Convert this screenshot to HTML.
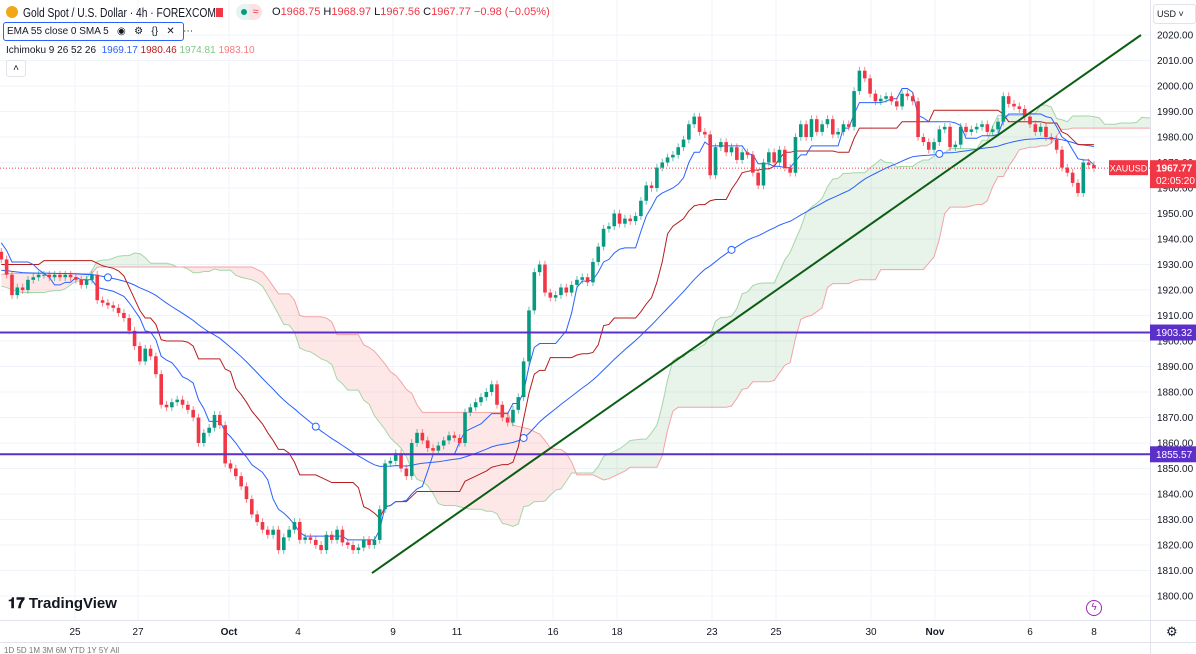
<!DOCTYPE html>
<html><head><meta charset="utf-8"><style>
body{margin:0;width:1196px;height:654px;overflow:hidden;background:#fff;font-family:"Liberation Sans",sans-serif;color:#131722}
#chart{position:absolute;left:0;top:0}
.hdr{position:absolute;font-size:11px;white-space:nowrap}
</style></head><body>
<svg id="chart" width="1196" height="654"></svg>
<div class="hdr" style="left:6px;top:6px;width:12px;height:12px;border-radius:50%;background:#f0a818"></div>
<div class="hdr" style="left:23px;top:5px;font-size:13px;transform:scaleX(0.79);transform-origin:left top">Gold Spot / U.S. Dollar · 4h · FOREXCOM</div>
<div class="hdr" style="left:216px;top:8px;width:7px;height:9px;background:#f23645"></div>
<div class="hdr" style="left:236px;top:4px;width:26px;height:16px;border-radius:8px;background:#e6f4f1"><span style="position:absolute;left:5px;top:5px;width:6px;height:6px;border-radius:50%;background:#089981"></span><span style="position:absolute;left:13px;top:0;width:13px;height:16px;border-radius:0 8px 8px 0;background:#fde2e4;color:#f23645;text-align:center;line-height:16px">≈</span></div>
<div class="hdr" style="left:272px;top:6px;color:#f23645"><span style="color:#131722">O</span>1968.75 <span style="color:#131722">H</span>1968.97 <span style="color:#131722">L</span>1967.56 <span style="color:#131722">C</span>1967.77 −0.98 (−0.05%)</div>
<div class="hdr" style="left:3px;top:22px;width:176px;height:17px;border:1px solid #2962ff;border-radius:3px;font-size:10px;line-height:17px;padding-left:3px">EMA 55 close 0 SMA 5 &nbsp;&nbsp;◉ &nbsp;&nbsp;⚙ &nbsp;&nbsp;{} &nbsp;&nbsp;✕ &nbsp;&nbsp;⋯</div>
<div class="hdr" style="left:6px;top:45px;font-size:10px">Ichimoku 9 26 52 26 &nbsp;<span style="color:#2962ff">1969.17</span> <span style="color:#b71c1c">1980.46</span> <span style="color:#81c784">1974.81</span> <span style="color:#f77c80">1983.10</span></div>
<div class="hdr" style="left:6px;top:60px;width:18px;height:15px;border:1px solid #e0e3eb;border-radius:3px;font-size:10px;text-align:center;line-height:15px">˄</div>
<div class="hdr" style="left:1153px;top:4px;width:38px;height:18px;border:1px solid #e0e3eb;border-radius:3px;font-size:9px;line-height:18px;padding-left:3px">USD ˅</div>
<div class="hdr" style="left:8px;top:595px;font-size:15px;font-weight:bold">𝟏𝟕 TradingView</div>
<div class="hdr" style="left:1086px;top:600px;width:14px;height:14px;border:1.5px solid #9c27b0;border-radius:50%;color:#9c27b0;font-size:10px;text-align:center;line-height:14px">ϟ</div>
<div class="hdr" style="left:1166px;top:624px;font-size:13px">⚙</div>
<script>
const history = [1912,1914,1916,1915,1918,1920,1917,1915,1914,1916,1919,1922,1921,1924,1926,1925,1923,1927,1930,1932,1931,1934,1937,1940,1938,1939,1936,1934,1930,1928,1925,1923,1920,1918,1921,1924,1922,1919,1917,1920,1923,1926,1924,1921,1918,1916,1919,1922,1924,1920,1916,1913,1915,1918,1921,1924,1922,1920,1917,1915,1918,1922,1925,1924,1927,1930,1933,1931,1935,1940,1945,1943,1938,1940,1944,1942,1938,1935];
const closes = [1932,1926,1918,1921,1920,1924,1925,1926,1926,1925,
1926,1925,1926,1925,1924,1922,1924,1926,1916,1915,
1914,1913,1911,1909,1904,1898,1892,1897,1894,1887,
1875,1874,1876,1877,1875,1873,1870,1860,1864,1866,
1871,1867,1852,1850,1847,1843,1838,1832,1829,1826,
1824,1826,1818,1823,1826,1829,1822,1823,1822,1820,
1818,1824,1822,1826,1821,1820,1818,1819,1822,1820,
1822,1834,1852,1853,1856,1850,1847,1860,1864,1861,
1858,1857,1859,1861,1863,1862,1860,1872,1874,1876,
1878,1880,1883,1875,1870,1868,1873,1878,1892,1912,
1927,1930,1919,1917,1918,1921,1919,1922,1924,1925,
1923,1931,1937,1944,1945,1950,1946,1948,1947,1949,
1955,1961,1960,1968,1970,1972,1973,1976,1979,1985,
1988,1982,1981,1965,1976,1978,1974,1976,1971,1974,
1973,1966,1961,1970,1974,1970,1975,1968,1966,1980,
1985,1980,1987,1982,1985,1987,1981,1982,1985,1984,
1998,2006,2003,1997,1994,1995,1996,1994,1992,1997,
1996,1994,1980,1978,1975,1978,1983,1984,1976,1977,
1984,1982,1983,1984,1985,1982,1983,1986,1996,1993,
1992,1991,1988,1985,1982,1984,1980,1979,1975,1968,
1966,1962,1958,1970,1969,1967.77];
const priceTicks = [1800,1810,1820,1830,1840,1850,1860,1870,1880,1890,1900,1910,1920,1930,1940,1950,1960,1970,1980,1990,2000,2010,2020];
const dateLabels = ["25","27","Oct","4","9","11","16","18","23","25","30","Nov","6","8"];
const datePx = [75,138,229,298,393,457,553,617,712,776,871,935,1030,1094];
const hLevels = [1903.32,1855.57];
const trendPrices = [1809,2020];
const lastPrice = 1967.77;

const S='http://www.w3.org/2000/svg', svg=document.getElementById('chart');
const PW=1150, BW=5.33, X0=1.3;
const y=p=>35+(2020-p)*2.55;
const x=i=>X0+i*BW;
function el(t,a,p){const e=document.createElementNS(S,t);for(const k in a)e.setAttribute(k,a[k]);(p||svg).appendChild(e);return e;}
const all=history.concat(closes), H=history.length;
const O=[],Hi=[],Lo=[];
for(let k=0;k<all.length;k++){const o=k?all[k-1]:all[k];O.push(o);Hi.push(Math.max(o,all[k])+1.5);Lo.push(Math.min(o,all[k])-1.5);}
function mid(k,n){let h=-1e9,l=1e9;for(let j=Math.max(0,k-n+1);j<=k;j++){h=Math.max(h,Hi[j]);l=Math.min(l,Lo[j]);}return (h+l)/2;}
const clip=el('clipPath',{id:'pc'});el('rect',{x:0,y:0,width:PW,height:620},clip);
const g=el('g',{'clip-path':'url(#pc)'});
for(const p of priceTicks){const l=el('line',{x1:0,x2:PW,y1:y(p),y2:y(p),stroke:'#f0f3fa'},g);}
datePx.forEach(px=>{const l=el('line',{x1:px,x2:px,y1:0,y2:620,stroke:'#f0f3fa'},g);});
const N=closes.length;
const A=[],B=[];
for(let i=-30;i<N+26;i++){const k=H+i-26;if(k<52)continue;A.push([x(i),(mid(k,9)+mid(k,26))/2]);B.push([x(i),mid(k,52)]);}
for(let j=0;j<A.length-1;j++){const up=(A[j][1]+A[j+1][1])>=(B[j][1]+B[j+1][1]);
 const p=el('polygon',{points:`${A[j][0]},${y(A[j][1])} ${A[j+1][0]},${y(A[j+1][1])} ${B[j+1][0]},${y(B[j+1][1])} ${B[j][0]},${y(B[j][1])}`,fill:up?'rgba(67,160,71,0.12)':'rgba(244,67,54,0.12)',stroke:'none'},g);
 }
const sa=el('polyline',{points:A.map(a=>a[0]+','+y(a[1])).join(' '),fill:'none',stroke:'#a5d6a7','stroke-width':1},g);

const sb=el('polyline',{points:B.map(a=>a[0]+','+y(a[1])).join(' '),fill:'none',stroke:'#f4a3a5','stroke-width':1},g);

let e=all[0];const E=[];for(let k=0;k<all.length;k++){e=k?e+(all[k]-e)*2/56:all[k];E.push(e);}
const ema=el('polyline',{points:closes.map((c,i)=>x(i)+','+y(E[H+i])).join(' '),fill:'none',stroke:'#2962ff','stroke-width':1},g);

for(let i=20;i<N;i+=39){const c=el('circle',{cx:x(i),cy:y(E[H+i]),r:3.5,fill:'#fff',stroke:'#2962ff'},g);}
const kij=el('polyline',{points:closes.map((c,i)=>x(i)+','+y(mid(H+i,26))).join(' '),fill:'none',stroke:'#b71c1c','stroke-width':1},g);

const ten=el('polyline',{points:closes.map((c,i)=>x(i)+','+y(mid(H+i,9))).join(' '),fill:'none',stroke:'#2962ff','stroke-width':1},g);

closes.forEach((c,i)=>{const k=H+i,o=O[k],up=c>=o,col=up?'#089981':'#f23645',cx=x(i);
 const w=el('line',{x1:cx,x2:cx,y1:y(Hi[k]),y2:y(Lo[k]),stroke:col,'stroke-opacity':0.6},g);
 
 const r=el('rect',{x:cx-1.8,width:3.6,y:y(Math.max(o,c)),height:Math.max(1,Math.abs(y(o)-y(c))),fill:col},g);
 });
hLevels.forEach(p=>{const l=el('line',{x1:0,x2:PW,y1:y(p),y2:y(p),stroke:'#5b2fc9','stroke-width':2},g);});
const tl=el('line',{x1:372,y1:y(trendPrices[0]),x2:1141,y2:y(trendPrices[1]),stroke:'#0b5e14','stroke-width':2},g);

const lp=el('line',{x1:0,x2:PW,y1:y(lastPrice),y2:y(lastPrice),stroke:'#f23645','stroke-dasharray':'1 2','stroke-width':1},g);

const tag=el('rect',{x:1109,y:y(lastPrice)-8,width:39,height:15,fill:'#f23645'});
const tt=el('text',{x:1128.5,y:y(lastPrice)+3.5,'font-size':9,fill:'#fff','text-anchor':'middle'});tt.textContent='XAUUSD';
const ax=el('line',{x1:PW+0.5,x2:PW+0.5,y1:0,y2:654,stroke:'#e0e3eb'});
const bx=el('line',{x1:0,x2:1196,y1:620.5,y2:620.5,stroke:'#e0e3eb'});
el('line',{x1:0,x2:1196,y1:642.5,y2:642.5,stroke:'#e0e3eb'});
priceTicks.forEach(p=>{const t=el('text',{x:1157,y:y(p)+3.5,'font-size':10,fill:'#131722'});t.textContent=p.toFixed(2);});
dateLabels.forEach((d,j)=>{const t=el('text',{x:datePx[j],y:635,'font-size':10,fill:'#131722','text-anchor':'middle','font-weight':(d=='Oct'||d=='Nov')?'bold':'normal'});t.textContent=d;});
hLevels.forEach(p=>{const r=el('rect',{x:1150,y:y(p)-8,width:46,height:16,fill:'#5b2fc9'});
 const t=el('text',{x:1156,y:y(p)+3.5,'font-size':10,fill:'#fff'});t.textContent=p.toFixed(2);});
const pr=el('rect',{x:1150,y:y(lastPrice)-8,width:46,height:28,fill:'#f23645'});
const p1=el('text',{x:1156,y:y(lastPrice)+3.5,'font-size':10,fill:'#fff','font-weight':'bold'});p1.textContent=lastPrice.toFixed(2);
const p2=el('text',{x:1156,y:y(lastPrice)+16,'font-size':10,fill:'#fff'});p2.textContent='02:05:20';
const tb=el('text',{x:4,y:653,'font-size':8,fill:'#777'});tb.textContent='1D  5D  1M  3M  6M  YTD  1Y  5Y  All';
</script>
</body></html>
